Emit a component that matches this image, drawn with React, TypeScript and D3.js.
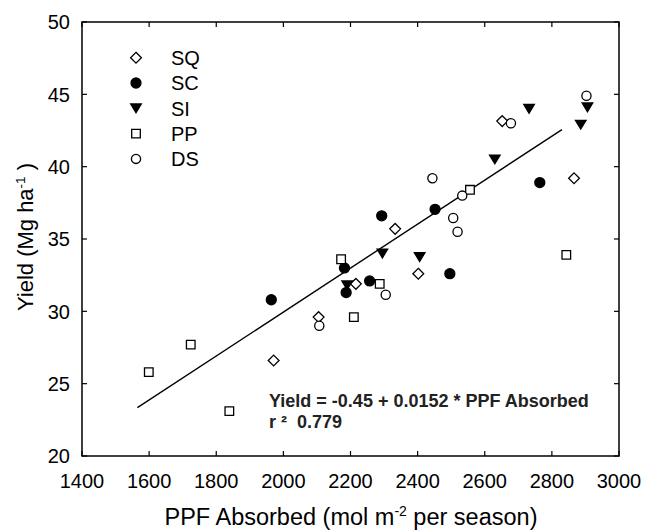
import React from "react";
import * as d3 from "d3";

const sqX = [1971, 2105, 2216, 2333, 2402, 2652, 2866];
const sqY = [26.6, 29.6, 31.9, 35.7, 32.6, 43.15, 39.2];
const scX = [1964, 2182, 2187, 2257, 2293, 2452, 2496, 2764];
const scY = [30.8, 33.0, 31.3, 32.1, 36.6, 37.05, 32.6, 38.9];
const siX = [2190, 2295, 2406, 2630, 2732, 2886, 2906];
const siY = [31.8, 34.0, 33.75, 40.5, 44.0, 42.9, 44.1];
const ppX = [1599, 1724, 1839, 2172, 2210, 2287, 2556, 2843];
const ppY = [25.8, 27.7, 23.1, 33.6, 29.6, 31.9, 38.4, 33.9];
const dsX = [2107, 2305, 2444, 2506, 2519, 2533, 2678, 2903];
const dsY = [29.0, 31.15, 39.2, 36.45, 35.5, 38.0, 43.0, 44.9];

const seriesNames = ["SQ", "SC", "SI", "PP", "DS"];
const xTicks = [1400, 1600, 1800, 2000, 2200, 2400, 2600, 2800, 3000];
const yTicks = [20, 25, 30, 35, 40, 45, 50];
const fitIntercept = -0.45;
const fitSlope = 0.0152;
const fitRange = [1565, 2830];
const r2 = 0.779;

const W = 645, H = 531;
const L = 82, R = 619, T = 22, B = 456;
const FONT = "'Liberation Sans', Arial, sans-serif";

function shapePath(kind: string, cx: number, cy: number): string {
  switch (kind) {
    case "SQ": {
      const h = 5.4;
      return `M${cx},${cy - h}L${cx + h},${cy}L${cx},${cy + h}L${cx - h},${cy}Z`;
    }
    case "SC":
    case "DS": {
      const r = kind === "SC" ? 5 : 4.6;
      return `M${cx - r},${cy}a${r},${r} 0 1,0 ${2 * r},0a${r},${r} 0 1,0 ${-2 * r},0Z`;
    }
    case "SI": {
      const w = 5.3, h = 8.8;
      return `M${cx - w},${cy - h / 2}L${cx + w},${cy - h / 2}L${cx},${cy + h / 2}Z`;
    }
    case "PP": {
      const s = 4.3;
      return `M${cx - s},${cy - s}H${cx + s}V${cy + s}H${cx - s}Z`;
    }
  }
  return "";
}
const filled: Record<string, boolean> = { SQ: false, SC: true, SI: true, PP: false, DS: false };

export default function App() {
  const x = d3.scaleLinear().domain([1400, 3000]).range([L, R]);
  const y = d3.scaleLinear().domain([20, 50]).range([B, T]);

  const series = [
    { name: "SQ", xs: sqX, ys: sqY },
    { name: "SC", xs: scX, ys: scY },
    { name: "SI", xs: siX, ys: siY },
    { name: "PP", xs: ppX, ys: ppY },
    { name: "DS", xs: dsX, ys: dsY },
  ];

  const line = d3
    .line<number>()
    .x((d) => x(d))
    .y((d) => y(fitIntercept + fitSlope * d));

  const tickLen = 5;

  return (
    <svg
      width={W}
      height={H}
      style={{ position: "absolute", left: 0, top: 0, background: "#fff" }}
      fontFamily={FONT}
    >
      <rect x={0} y={0} width={W} height={H} fill="#fff" />
      {/* frame */}
      <rect x={L} y={T} width={R - L} height={B - T} fill="none" stroke="#000" strokeWidth={1.5} />
      {/* x ticks */}
      {xTicks.map((t) => (
        <g key={"xt" + t}>
          <line x1={x(t)} x2={x(t)} y1={B} y2={B - tickLen} stroke="#000" strokeWidth={1.2} />
          <line x1={x(t)} x2={x(t)} y1={T} y2={T + tickLen} stroke="#000" strokeWidth={1.2} />
          <text x={x(t)} y={488} textAnchor="middle" fontSize={20} fill="#000">
            {t}
          </text>
        </g>
      ))}
      {/* y ticks */}
      {yTicks.map((t) => (
        <g key={"yt" + t}>
          <line x1={L} x2={L + tickLen} y1={y(t)} y2={y(t)} stroke="#000" strokeWidth={1.2} />
          <line x1={R} x2={R - tickLen} y1={y(t)} y2={y(t)} stroke="#000" strokeWidth={1.2} />
          <text x={70} y={y(t)} dy="0.36em" textAnchor="end" fontSize={20} fill="#000">
            {t}
          </text>
        </g>
      ))}
      {/* axis titles */}
      <text x={351} y={525} textAnchor="middle" fontSize={23.5} fill="#000">
        PPF Absorbed (mol m
        <tspan dy={-9} fontSize={14}>-2</tspan>
        <tspan dy={9}> per season)</tspan>
      </text>
      <text
        transform={`translate(33,237) rotate(-90)`}
        textAnchor="middle"
        fontSize={22}
        fill="#000"
      >
        Yield (Mg ha
        <tspan dy={-8} fontSize={13.5}>-1</tspan>
        <tspan dy={8}> )</tspan>
      </text>
      {/* regression line */}
      <path d={line(fitRange) || ""} fill="none" stroke="#000" strokeWidth={1.4} />
      {/* points */}
      {series.map((s) => (
        <g key={s.name}>
          {s.xs.map((v, i) => (
            <path
              key={i}
              d={shapePath(s.name, x(v), y(s.ys[i]))}
              fill={filled[s.name] ? "#000" : "#fff"}
              stroke="#000"
              strokeWidth={1.3}
            />
          ))}
        </g>
      ))}
      {/* legend */}
      {seriesNames.map((n, i) => {
        const cy = 57.7 + i * 25.3;
        return (
          <g key={"lg" + n}>
            <path d={shapePath(n, 136, cy)} fill={filled[n] ? "#000" : "#fff"} stroke="#000" strokeWidth={1.3} />
            <text x={171} y={cy} dy="0.36em" fontSize={20} fill="#000">
              {n}
            </text>
          </g>
        );
      })}
      {/* equation */}
      <text x={269} y={407} fontSize={18} fontWeight="bold" fill="#222">
        {`Yield = ${fitIntercept} + ${fitSlope} * PPF Absorbed`}
      </text>
      <text x={269} y={428} fontSize={18} fontWeight="bold" fill="#222" xmlSpace="preserve">
        {`r ²  ${r2}`}
      </text>
    </svg>
  );
}
